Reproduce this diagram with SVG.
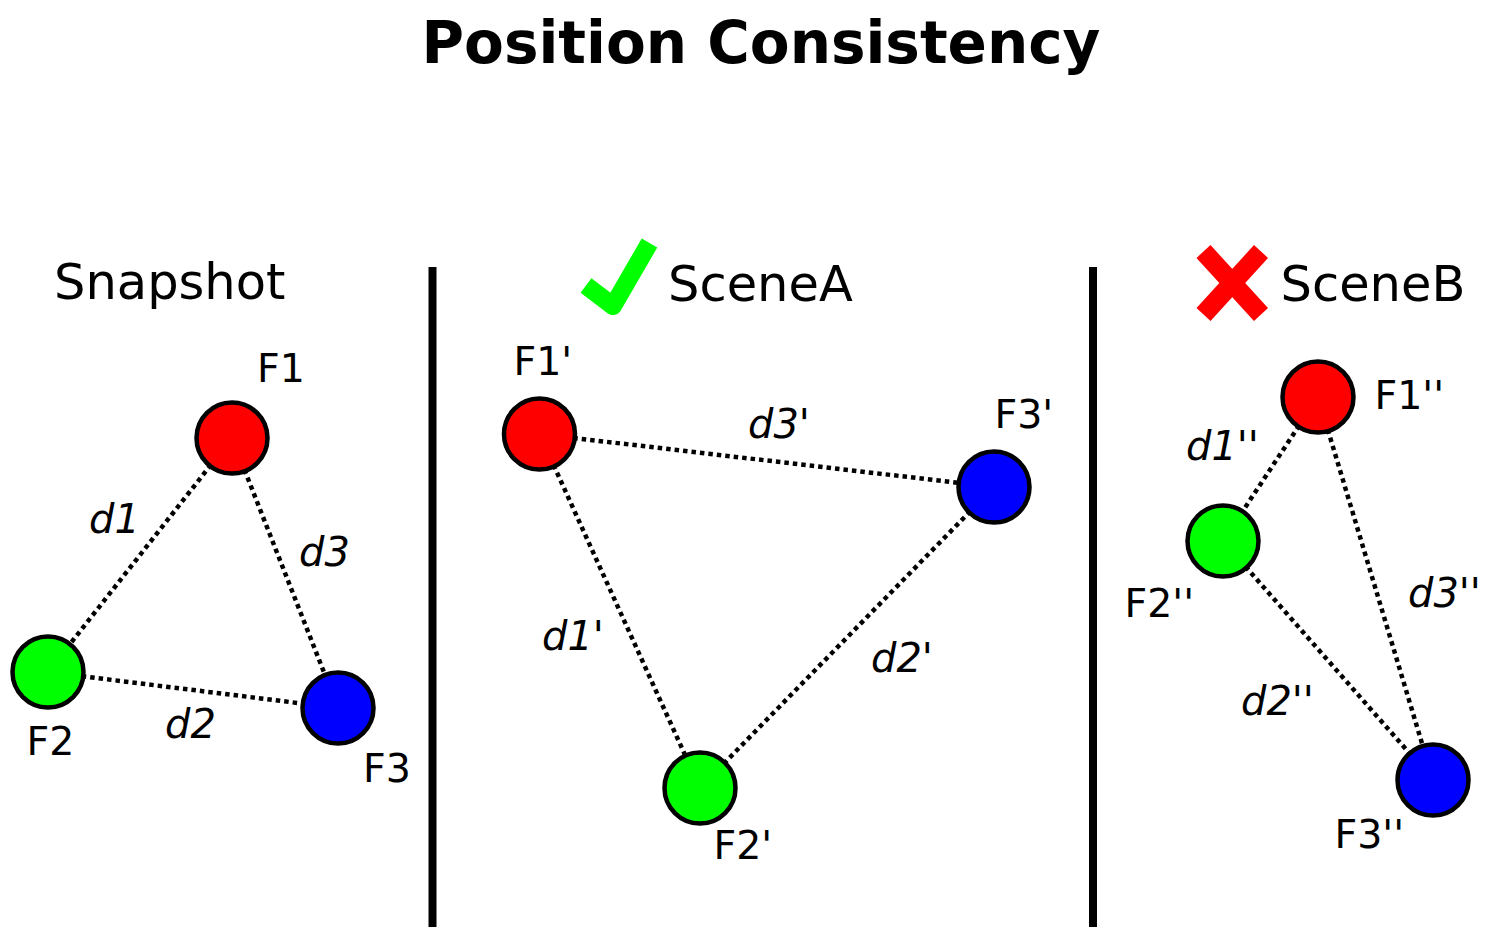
<svg xmlns="http://www.w3.org/2000/svg" width="1491" height="942" viewBox="0 0 1491 942">
<style>
text{font-family:"DejaVu Sans","Liberation Sans",sans-serif;fill:#000}
.title{font-size:58px;font-weight:bold;text-anchor:middle}
.head{font-size:49.5px}
.lbl{font-size:39.5px}
.dl{font-size:40px;font-style:italic}
.node{stroke:#000;stroke-width:4.5}
.edge{stroke:#000;stroke-width:4.5;stroke-dasharray:4.5 4;fill:none}
.bar{stroke:#000;stroke-width:8}
</style>
<rect width="1491" height="942" fill="#fff"/>
<text class="title" x="761" y="63">Position Consistency</text>
<g id="dividers">
<line class="bar" x1="432.5" y1="267" x2="432.5" y2="927"/>
<line class="bar" x1="1093" y1="267" x2="1093" y2="927"/>
</g>
<g id="headers">
<text class="head" x="54" y="299">Snapshot</text>
<polyline points="586,285.5 613,306 649.5,243" fill="none" stroke="#00ff00" stroke-width="18" stroke-linejoin="round"/>
<text class="head" x="668" y="301">SceneA</text>
<line x1="1203.5" y1="251.5" x2="1261" y2="314.5" stroke="#ff0000" stroke-width="19"/>
<line x1="1261" y1="251.5" x2="1203.5" y2="314.5" stroke="#ff0000" stroke-width="19"/>
<text class="head" x="1280.5" y="301">SceneB</text>
</g>
<g id="connectors">
<line class="edge" x1="232" y1="438" x2="48" y2="672"/>
<line class="edge" x1="48" y1="672" x2="338" y2="708"/>
<line class="edge" x1="232" y1="438" x2="338" y2="708"/>
<line class="edge" x1="539.5" y1="434" x2="700" y2="788"/>
<line class="edge" x1="700" y1="788" x2="994" y2="487"/>
<line class="edge" x1="539.5" y1="434" x2="994" y2="487"/>
<line class="edge" x1="1318" y1="397" x2="1223" y2="541"/>
<line class="edge" x1="1223" y1="541" x2="1433" y2="780"/>
<line class="edge" x1="1318" y1="397" x2="1433" y2="780"/>
</g>
<g id="edge-labels">
<text class="dl" x="89" y="533">d1</text>
<text class="dl" x="165" y="738">d2</text>
<text class="dl" x="299" y="566">d3</text>
<text class="dl" x="542" y="650">d1'</text>
<text class="dl" x="871" y="672">d2'</text>
<text class="dl" x="748" y="438">d3'</text>
<text class="dl" x="1186" y="460">d1''</text>
<text class="dl" x="1241" y="715">d2''</text>
<text class="dl" x="1408" y="607">d3''</text>
</g>
<g id="F1"><circle class="node" cx="232" cy="438" r="35.5" fill="#ff0000"/><text class="lbl" x="257" y="382">F1</text></g>
<g id="F2"><circle class="node" cx="48" cy="672" r="35.5" fill="#00ff00"/><text class="lbl" x="26.5" y="755">F2</text></g>
<g id="F3"><circle class="node" cx="338" cy="708" r="35.5" fill="#0000ff"/><text class="lbl" x="363" y="782">F3</text></g>
<g id="F1p"><circle class="node" cx="539.5" cy="434" r="35.5" fill="#ff0000"/><text class="lbl" x="513.5" y="375">F1'</text></g>
<g id="F2p"><circle class="node" cx="700" cy="788" r="35.5" fill="#00ff00"/><text class="lbl" x="713.5" y="859">F2'</text></g>
<g id="F3p"><circle class="node" cx="994" cy="487" r="35.5" fill="#0000ff"/><text class="lbl" x="994.5" y="428">F3'</text></g>
<g id="F1pp"><circle class="node" cx="1318" cy="397" r="35.5" fill="#ff0000"/><text class="lbl" x="1374.5" y="409">F1''</text></g>
<g id="F2pp"><circle class="node" cx="1223" cy="541" r="35.5" fill="#00ff00"/><text class="lbl" x="1124.5" y="617">F2''</text></g>
<g id="F3pp"><circle class="node" cx="1433" cy="780" r="35.5" fill="#0000ff"/><text class="lbl" x="1334.5" y="848">F3''</text></g>
</svg>
